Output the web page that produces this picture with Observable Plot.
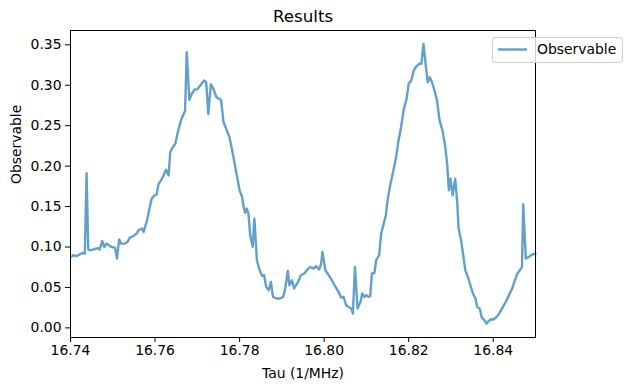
<!DOCTYPE html>
<html>
<head>
<meta charset="utf-8">
<script src="https://cdn.jsdelivr.net/npm/d3@7"></script>
<script src="https://cdn.jsdelivr.net/npm/@observablehq/plot@0.6"></script>
<style>
  html, body { margin: 0; padding: 0; background: #fff; }
  #chart { position: relative; width: 631px; height: 391px; }
</style>
</head>
<body>
<div id="chart"></div>
<script>
const tau = [
  16.7402,16.7406,16.7414,16.7422,16.7430,16.7434,16.7438,16.7442,16.7449,16.7458,
  16.7465,16.7469,16.7475,16.7480,16.7485,16.7491,16.7497,16.7505,16.7510,16.7515,
  16.7520,16.7529,16.7535,16.7540,16.7548,16.7556,16.7561,16.7569,16.7573,16.7581,
  16.7586,16.7592,16.7599,16.7604,16.7608,16.7614,16.7620,16.7626,16.7632,16.7636,
  16.7641,16.7648,16.7654,16.7660,16.7665,16.7671,16.7675,16.7681,16.7687,16.7693,
  16.7700,16.7707,16.7716,16.7721,16.7726,16.7732,16.7738,16.7745,16.7751,16.7756,
  16.7762,16.7768,16.7776,16.7784,16.7792,16.7800,16.7806,16.7809,16.7813,16.7817,
  16.7821,16.7825,16.7831,16.7835,16.7841,16.7847,16.7853,16.7858,16.7863,16.7869,
  16.7874,16.7879,16.7888,16.7896,16.7903,16.7908,16.7914,16.7918,16.7924,16.7929,
  16.7937,16.7945,16.7953,16.7959,16.7967,16.7975,16.7981,16.7988,16.7993,16.7996,
  16.8003,16.8011,16.8019,16.8026,16.8034,16.8040,16.8046,16.8052,16.8058,16.8064,
  16.8068,16.8073,16.8079,16.8086,16.8090,16.8095,16.8100,16.8105,16.8109,16.8113,
  16.8119,16.8123,16.8130,16.8135,16.8141,16.8146,16.8150,16.8157,16.8164,16.8171,
  16.8176,16.8182,16.8188,16.8195,16.8200,16.8206,16.8212,16.8218,16.8225,16.8230,
  16.8235,16.8240,16.8245,16.8250,16.8255,16.8261,16.8267,16.8273,16.8280,16.8286,
  16.8291,16.8295,16.8299,16.8304,16.8310,16.8315,16.8318,16.8324,16.8329,16.8334,
  16.8340,16.8346,16.8352,16.8358,16.8362,16.8368,16.8373,16.8379,16.8384,16.8389,
  16.8395,16.8401,16.8408,16.8415,16.8423,16.8431,16.8439,16.8445,16.8450,16.8457,
  16.8463,16.8468,16.8471,16.8477,16.8484,16.8492,16.8500
];
const observable = [
  0.0877,0.0898,0.0886,0.0910,0.0926,0.0919,0.1914,0.0968,0.0960,0.0976,
  0.0984,0.0968,0.1074,0.1000,0.1042,0.1021,0.1000,0.0993,0.0857,0.1092,
  0.1042,0.1042,0.1062,0.1116,0.1133,0.1166,0.1207,0.1228,0.1186,0.1330,
  0.1454,0.1598,0.1639,0.1651,0.1774,0.1823,0.1885,0.1956,0.1885,0.2174,
  0.2228,0.2277,0.2421,0.2544,0.2615,0.2680,0.3409,0.2821,0.2895,0.2944,
  0.2952,0.2997,0.3059,0.3038,0.2643,0.3010,0.2957,0.2853,0.2833,0.2821,
  0.2544,0.2463,0.2359,0.2154,0.1927,0.1701,0.1618,0.1515,0.1423,0.1475,
  0.1413,0.1145,0.1003,0.1351,0.0836,0.0719,0.0645,0.0651,0.0506,0.0466,
  0.0568,0.0383,0.0363,0.0363,0.0383,0.0487,0.0704,0.0527,0.0589,0.0487,
  0.0556,0.0651,0.0672,0.0713,0.0753,0.0734,0.0762,0.0721,0.0795,0.0939,
  0.0713,0.0651,0.0580,0.0515,0.0445,0.0375,0.0383,0.0280,0.0259,0.0240,
  0.0178,0.0753,0.0240,0.0321,0.0425,0.0383,0.0404,0.0383,0.0392,0.0672,
  0.0679,0.0836,0.0898,0.1166,0.1289,0.1392,0.1577,0.1783,0.1948,0.2133,
  0.2318,0.2482,0.2689,0.2833,0.3018,0.3059,0.3183,0.3232,0.3265,0.3265,
  0.3512,0.3265,0.3038,0.3100,0.3038,0.2936,0.2812,0.2565,0.2442,0.2256,
  0.2030,0.1701,0.1845,0.1639,0.1845,0.1536,0.1228,0.1083,0.0898,0.0713,
  0.0630,0.0527,0.0425,0.0363,0.0259,0.0240,0.0128,0.0095,0.0054,0.0083,
  0.0107,0.0104,0.0136,0.0185,0.0259,0.0333,0.0425,0.0487,0.0568,0.0672,
  0.0713,0.0753,0.1528,0.0857,0.0877,0.0907,0.0919
];
const xTicks = [16.74, 16.76, 16.78, 16.80, 16.82, 16.84];
const yTicks = [0.00, 0.05, 0.10, 0.15, 0.20, 0.25, 0.30, 0.35];
const titleText = "Results";
const xLabel = "Tau (1/MHz)";
const yLabel = "Observable";
const seriesName = "Observable";

const data = tau.map((t, i) => ({tau: t, value: observable[i]}));
const color = "#1f77b4";
const font = "'DejaVu Sans', sans-serif";
const fs = 13.9;

const chart = Plot.plot({
  width: 631,
  height: 391,
  marginLeft: 70,
  marginRight: 96,
  marginTop: 30,
  marginBottom: 54,
  style: {fontFamily: font, fontSize: fs + "px", color: "black", background: "white", overflow: "visible"},
  x: {domain: [16.74, 16.85], label: null},
  y: {domain: [-0.0119, 0.3677], label: null},
  marks: [
    Plot.axisX({ticks: xTicks, tickFormat: d3.format(".2f"), tickSize: 5, tickPadding: 3, label: null, fontSize: fs}),
    Plot.axisY({ticks: yTicks, tickFormat: d3.format(".2f"), tickSize: 5, tickPadding: 4, label: null, fontSize: fs}),
    Plot.line(data, {x: "tau", y: "value", stroke: color, strokeOpacity: 0.7, strokeWidth: 2.4, strokeLinejoin: "round"}),
    Plot.frame({stroke: "black", strokeWidth: 1}),
    Plot.text([titleText], {frameAnchor: "top", dy: -14, text: d => d, fontSize: 16.7, lineAnchor: "middle"}),
    Plot.text([xLabel], {frameAnchor: "bottom", dy: 36, text: d => d, fontSize: fs, lineAnchor: "middle"}),
    Plot.text([yLabel], {frameAnchor: "left", dx: -54, rotate: -90, text: d => d, fontSize: fs, lineAnchor: "middle"})
  ]
});
document.getElementById("chart").appendChild(chart);

// legend
const svg = d3.select(chart);
const lg = svg.append("g").attr("font-family", font).attr("font-size", fs).attr("text-anchor", "start");
lg.append("rect").attr("x", 492.5).attr("y", 37.5).attr("width", 130).attr("height", 25)
  .attr("rx", 3).attr("fill", "white").attr("fill-opacity", 0.8).attr("stroke", "#cccccc");
lg.append("line").attr("x1", 498).attr("x2", 527).attr("y1", 49.5).attr("y2", 49.5)
  .attr("stroke", color).attr("stroke-opacity", 0.7).attr("stroke-width", 2.4);
lg.append("text").attr("x", 537).attr("y", 50).attr("text-anchor", "start")
  .attr("dominant-baseline", "middle").text(seriesName);
</script>
</body>
</html>
